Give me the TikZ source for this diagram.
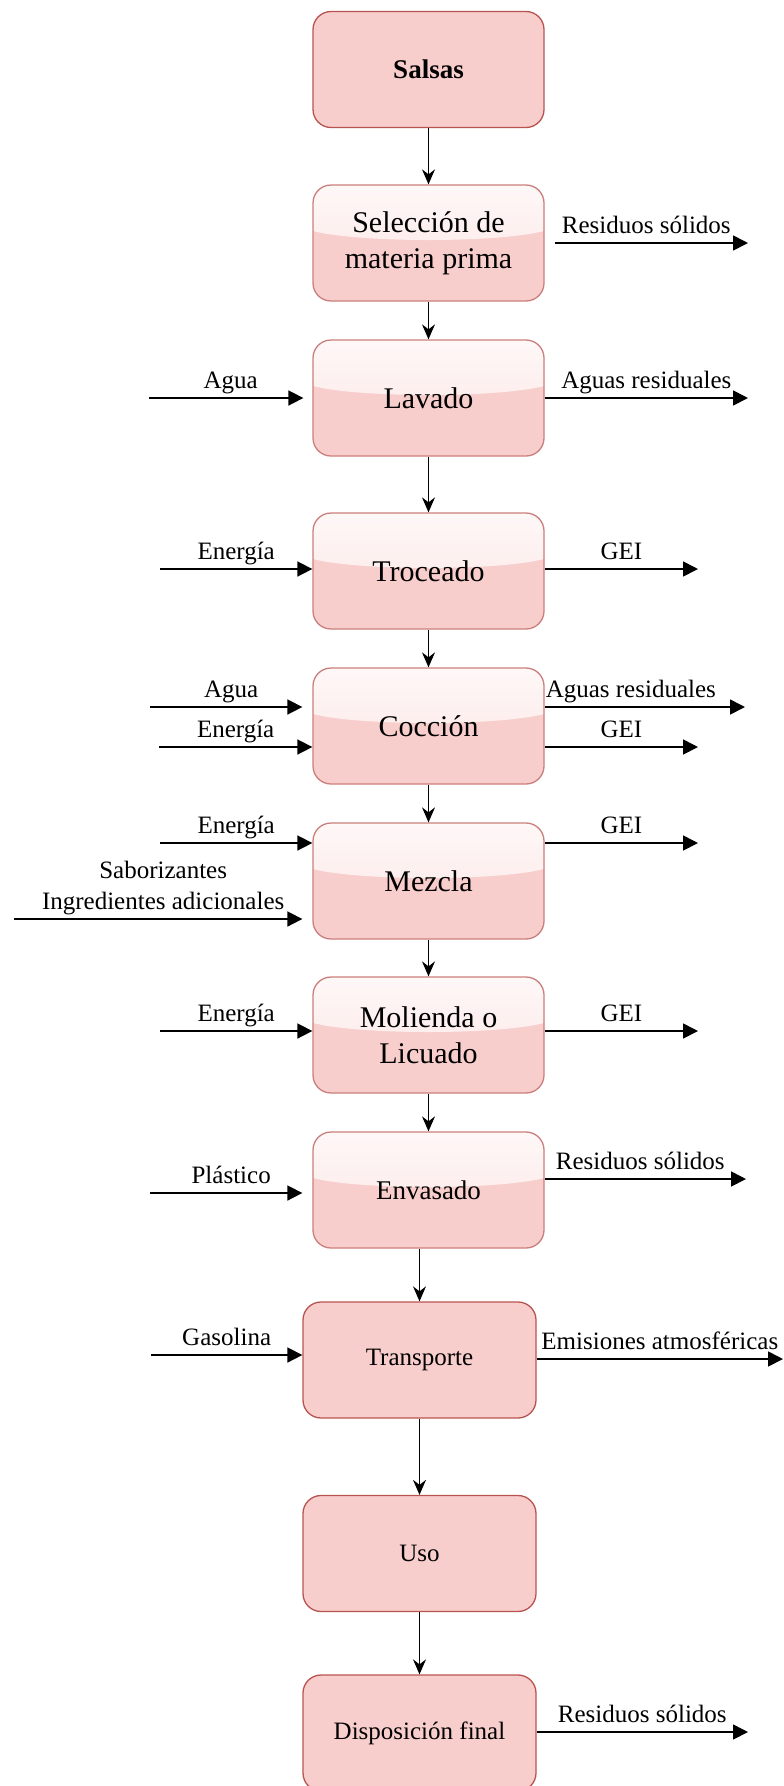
\documentclass[tikz,border=0pt]{standalone}
\usepackage{fontspec}
\setmainfont{Liberation Serif}
\usetikzlibrary{arrows.meta}
\definecolor{boxfill}{HTML}{F8CECC}
\definecolor{boxline}{HTML}{B85450}
\def\boxfont{\fontsize{30}{36}\selectfont}
\def\sidefont{\fontsize{25}{31}\selectfont}
\def\pbb{path picture bounding box}
\tikzset{
  proc/.style={draw=boxline, fill=boxfill, line width=1.3pt, rounded corners=18pt,
    minimum width=231pt, minimum height=116pt, align=center, font=\boxfont},
  % shiny upper band of the process boxes
  glass/.style={proc, draw=boxline!75, path picture={
    \fill[sharp corners, top color=white!85!boxfill, bottom color=white!45!boxfill]
      (\pbb.north west) -- ([yshift=-46pt]\pbb.north west)
      .. controls ([xshift=-70pt,yshift=-58pt]\pbb.north) and ([xshift=70pt,yshift=-58pt]\pbb.north)
      .. ([yshift=-46pt]\pbb.north east) -- (\pbb.north east) -- cycle;}},
  flow/.style={-{Stealth[length=15pt,width=13pt,inset=5pt]}, line width=1.3pt},
  side/.style={-{Triangle[length=15pt,width=15pt]}, line width=1.7pt},
  lbl/.style={above=9pt, inner sep=0pt, text depth=0pt, font=\sidefont, align=center}
}

\begin{document}
\begin{tikzpicture}[x=1pt, y=-1pt]
  \useasboundingbox (0,0) rectangle (784,1786);

  % process chain
  \node[proc, font=\fontsize{27}{32}\selectfont\bfseries] (sal) at (428.5,69.5) {Salsas};
  \node[glass] (sel) at (428.5,243) {Selección de\\materia prima};
  \node[glass] (lav) at (428.5,398) {Lavado};
  \node[glass] (tro) at (428.5,571) {Troceado};
  \node[glass] (coc) at (428.5,726) {Cocción};
  \node[glass] (mez) at (428.5,881) {Mezcla};
  \node[glass] (mol) at (428.5,1035) {Molienda o\\Licuado};
  \node[glass, font=\fontsize{27}{32}\selectfont] (env) at (428.5,1190) {Envasado};
  \node[proc, minimum width=233pt, font=\sidefont] (tra) at (419.5,1360) {Transporte};
  \node[proc, minimum width=233pt, font=\sidefont] (uso) at (419.5,1553.5) {Uso};
  \node[proc, minimum width=233pt, font=\sidefont] (dis) at (419.5,1733) {Disposición final};

  \foreach \a/\b in {sal/sel, sel/lav, lav/tro, tro/coc, coc/mez, mez/mol, mol/env, tra/uso, uso/dis}
    \draw[flow] (\a) -- (\b);
  \draw[flow] (env.south -| tra) -- (tra);

  % free ends of the inputs and outputs
  \coordinate (sel-R) at (748,243);
  \coordinate (lav-A) at (149,398);
  \coordinate (lav-R) at (748,398);
  \coordinate (coc-A) at (150,707);
  \coordinate (coc-E) at (159,747);
  \coordinate (coc-R) at (745,707);
  \coordinate (coc-G) at (698,747);
  \coordinate (mez-S) at (14,919);
  \coordinate (env-P) at (150,1193);
  \coordinate (env-R) at (746,1179);
  \coordinate (tra-G) at (151,1355);
  \coordinate (tra-E) at (783,1359);
  \coordinate (dis-R) at (748,1732);

  \draw[side, shorten <=10pt] (sel.east |- sel-R) -- (sel-R) node[lbl, midway] {Residuos sólidos};

  \draw[side, shorten >=9pt] (lav-A) -- (lav-A -| lav.west) node[lbl, midway] {Agua};
  \draw[side] (lav.east |- lav-R) -- (lav-R) node[lbl, midway] {Aguas residuales};

  % energy in, GEI out
  \foreach \n/\y in {tro/569, mez/843, mol/1031} {
    \coordinate (\n-E) at (160,\y);
    \coordinate (\n-G) at (698,\y);
    \draw[side] (\n-E) -- (\n-E -| \n.west) node[lbl, midway] {Energía};
    \draw[side] (\n.east |- \n-G) -- (\n-G) node[lbl, midway] {GEI};
  }

  \draw[side, shorten >=10pt] (coc-A) -- (coc-A -| coc.west) node[lbl, midway] {Agua};
  \draw[side] (coc-E) -- (coc-E -| coc.west) node[lbl, midway] {Energía};
  \draw[side] (coc.east |- coc-R) -- (coc-R) node[lbl, midway, xshift=-14pt] {Aguas residuales};
  \draw[side] (coc.east |- coc-G) -- (coc-G) node[lbl, midway] {GEI};

  \draw[side, shorten >=10pt] (mez-S) -- (mez-S -| mez.west) node[lbl, midway] {Saborizantes\\Ingredientes adicionales};

  \draw[side, shorten >=10pt] (env-P) -- (env-P -| env.west) node[lbl, midway] {Plástico};
  \draw[side] (env.east |- env-R) -- (env-R) node[lbl, midway, xshift=-5pt] {Residuos sólidos};

  \draw[side] (tra-G) -- (tra-G -| tra.west) node[lbl, midway] {Gasolina};
  \draw[side] (tra.east |- tra-E) -- (tra-E) node[lbl, midway] {Emisiones atmosféricas};

  \draw[side] (dis.east |- dis-R) -- (dis-R) node[lbl, midway] {Residuos sólidos};
\end{tikzpicture}
\end{document}
